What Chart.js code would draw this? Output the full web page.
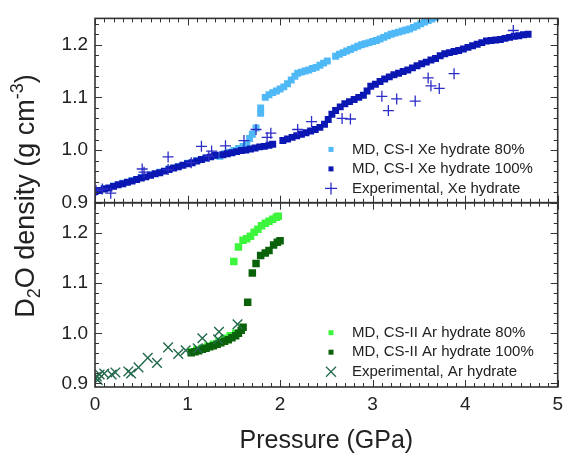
<!DOCTYPE html>
<html>
<head>
<meta charset="utf-8">
<script src="https://cdn.jsdelivr.net/npm/chart.js@4/dist/chart.umd.min.js"></script>
<style>
  html, body { margin: 0; padding: 0; background: #fff; }
  #wrap { width: 569px; height: 456px; }
</style>
</head>
<body>
<div id="wrap"><canvas id="c" width="569" height="456"></canvas></div>
<script>
// tick values
const xTicks = [0, 1, 2, 3, 4, 5];
const yTicksTop = [0.9, 1.0, 1.1, 1.2];
const yTicksBot = [0.9, 1.0, 1.1, 1.2];

// Xe hydrate (top panel): [pressure GPa, D2O density g/cm3]
const xeMd80 = [
  [0.0,0.922],[0.1,0.927],[0.2,0.932],[0.3,0.937],[0.4,0.942],[0.5,0.948],[0.6,0.953],[0.7,0.958],
  [0.8,0.964],[0.9,0.969],[1.0,0.975],[1.1,0.980],[1.2,0.985],[1.3,0.989],[1.35,0.988],[1.4,0.993],
  [1.45,0.996],[1.5,0.999],[1.55,1.003],[1.6,1.007],[1.64,1.012],[1.67,1.022],[1.70,1.030],[1.74,1.042],
  [1.79,1.070],[1.79,1.080],[1.84,1.100],[1.88,1.105],[1.92,1.109],[1.96,1.112],[2.0,1.116],[2.04,1.120],
  [2.08,1.126],[2.12,1.133],[2.16,1.140],[2.19,1.146],[2.23,1.148],[2.27,1.150],[2.31,1.152],[2.35,1.155],
  [2.39,1.157],[2.43,1.161],[2.47,1.165],[2.51,1.169],[2.6,1.178],[2.64,1.182],[2.68,1.185],[2.72,1.188],
  [2.76,1.191],[2.8,1.194],[2.84,1.197],[2.88,1.200],[2.92,1.202],[2.96,1.204],[3.0,1.206],[3.04,1.208],
  [3.08,1.211],[3.12,1.214],[3.16,1.217],[3.2,1.220],[3.24,1.222],[3.28,1.224],[3.32,1.226],[3.36,1.228],
  [3.4,1.230],[3.44,1.233],[3.48,1.236],[3.52,1.240],[3.56,1.243],[3.6,1.246],[3.64,1.249],[3.68,1.252]
];
const xeMd100 = [
  [0.0,0.921],[0.05,0.923],[0.10,0.926],[0.15,0.928],[0.20,0.931],[0.25,0.934],[0.30,0.936],[0.35,0.939],
  [0.40,0.941],[0.45,0.944],[0.50,0.947],[0.55,0.949],[0.60,0.952],[0.65,0.955],[0.70,0.957],[0.75,0.960],
  [0.80,0.963],[0.85,0.966],[0.90,0.968],[0.95,0.971],[1.00,0.974],[1.05,0.976],[1.10,0.979],[1.15,0.982],
  [1.20,0.985],[1.25,0.987],[1.30,0.990],[1.38,0.991],[1.43,0.993],[1.48,0.995],[1.53,0.997],[1.58,0.999],
  [1.63,1.000],[1.68,1.002],[1.73,1.004],[1.78,1.006],[1.83,1.007],[1.88,1.009],[1.92,1.011],
  [2.03,1.018],[2.08,1.021],[2.13,1.024],[2.18,1.027],[2.23,1.030],[2.28,1.033],[2.33,1.036],[2.38,1.039],
  [2.43,1.043],[2.48,1.049],[2.52,1.058],[2.56,1.068],[2.60,1.075],[2.65,1.082],[2.70,1.088],[2.75,1.092],
  [2.80,1.096],[2.85,1.100],[2.90,1.104],[2.94,1.112],[2.98,1.121],[3.03,1.125],[3.08,1.130],[3.13,1.135],
  [3.18,1.139],[3.23,1.143],[3.28,1.146],[3.33,1.149],[3.38,1.152],[3.43,1.156],[3.48,1.160],[3.53,1.164],
  [3.58,1.167],[3.63,1.171],[3.68,1.174],[3.73,1.179],[3.78,1.183],[3.83,1.185],[3.88,1.187],[3.93,1.189],
  [3.98,1.192],[4.03,1.195],[4.08,1.198],[4.13,1.201],[4.18,1.204],[4.23,1.207],[4.28,1.208],[4.33,1.209],
  [4.38,1.210],[4.43,1.212],[4.48,1.214],[4.53,1.216],[4.58,1.217],[4.63,1.219],[4.68,1.220]
];
const xeExp = [
  [0.01,0.923],[0.08,0.926],[0.17,0.918],[0.51,0.964],[0.53,0.958],[0.79,0.987],[0.79,0.963],[1.04,0.976],
  [1.15,1.007],[1.23,0.988],[1.26,0.998],[1.41,1.008],[1.61,1.018],[1.74,1.039],[1.86,1.024],[1.90,1.032],
  [2.19,1.039],[2.34,1.054],[2.67,1.060],[2.76,1.059],[3.10,1.102],[3.17,1.075],[3.26,1.097],[3.46,1.093],
  [3.60,1.137],[3.63,1.122],[3.72,1.117],[3.88,1.145],[4.52,1.227]
];

// Ar hydrate (bottom panel)
const arMd80 = [
  [1.04,0.963],[1.10,0.967],[1.16,0.970],[1.22,0.974],[1.28,0.978],[1.34,0.984],[1.40,0.990],[1.46,0.995],
  [1.52,1.000],[1.50,1.143],[1.55,1.172],[1.60,1.185],[1.64,1.188],[1.68,1.193],[1.72,1.201],[1.76,1.207],
  [1.80,1.214],[1.84,1.219],[1.88,1.223],[1.92,1.227],[1.96,1.231],[1.98,1.233]
];
const arMd100 = [
  [1.04,0.961],[1.08,0.963],[1.12,0.965],[1.16,0.968],[1.20,0.970],[1.24,0.973],[1.28,0.975],[1.32,0.978],
  [1.36,0.981],[1.40,0.984],[1.44,0.987],[1.48,0.991],[1.52,0.995],[1.55,1.000],[1.58,1.006],[1.60,1.012],
  [1.65,1.062],[1.70,1.120],[1.74,1.139],[1.79,1.155],[1.84,1.160],[1.88,1.165],[1.93,1.176],[1.97,1.181],
  [2.00,1.184]
];
const arExp = [
  [0.00,0.912],[0.02,0.914],[0.03,0.907],[0.05,0.918],[0.10,0.920],[0.18,0.918],[0.22,0.922],[0.36,0.924],
  [0.39,0.920],[0.47,0.932],[0.57,0.951],[0.67,0.941],[0.79,0.972],[0.90,0.959],[0.98,0.966],[1.11,0.970],
  [1.16,0.990],[1.33,0.988],[1.34,1.003],[1.54,1.018]
];

const COL = {
  xe80: '#4fb8f6', xe100: '#0b17b2', xeExp: '#2c2cc6',
  ar80: '#3cf53c', ar100: '#0a620a', arExp: '#23694b',
  axis: '#333333', text: '#222222'
};
const FONT = '"Liberation Sans", Arial, sans-serif';

const pts = (arr) => arr.map(([x, y]) => ({ x, y }));

function ds(label, data, axis, color, style, radius, extra) {
  return Object.assign({
    label,
    data: pts(data),
    yAxisID: axis,
    pointStyle: style,
    pointRadius: radius,
    pointBackgroundColor: color,
    pointBorderColor: color,
    pointBorderWidth: 0,
    showLine: false,
  }, extra || {});
}

// datasets with lower index are drawn on top
const datasets = [
  ds('Experimental, Xe hydrate', xeExp, 'y', COL.xeExp, 'cross', 5.5, { pointBorderWidth: 1.3 }),
  ds('MD, CS-I Xe hydrate 100%', xeMd100, 'y', COL.xe100, 'rect', 4.9),
  ds('MD, CS-I Xe hydrate 80%', xeMd80, 'y', COL.xe80, 'rect', 4.9),
  ds('Experimental, Ar hydrate', arExp, 'y2', COL.arExp, 'crossRot', 6.8, { pointBorderWidth: 1.4 }),
  ds('MD, CS-II Ar hydrate 100%', arMd100, 'y2', COL.ar100, 'rect', 5.3),
  ds('MD, CS-II Ar hydrate 80%', arMd80, 'y2', COL.ar80, 'rect', 5.3),
];

const legendTop = [
  { text: 'MD, CS-I Xe hydrate 80%', color: COL.xe80, kind: 'sq' },
  { text: 'MD, CS-I Xe hydrate 100%', color: COL.xe100, kind: 'sq' },
  { text: 'Experimental, Xe hydrate', color: COL.xeExp, kind: 'plus' },
];
const legendBot = [
  { text: 'MD, CS-II Ar hydrate 80%', color: COL.ar80, kind: 'sq' },
  { text: 'MD, CS-II Ar hydrate 100%', color: COL.ar100, kind: 'sq' },
  { text: 'Experimental, Ar hydrate', color: COL.arExp, kind: 'x' },
];

function line(ctx, x1, y1, x2, y2) {
  ctx.beginPath(); ctx.moveTo(x1, y1); ctx.lineTo(x2, y2); ctx.stroke();
}

// frame with inward major/minor ticks for both panels
const frameTicks = {
  id: 'frameTicks',
  afterDatasetsDraw(chart) {
    const { ctx, scales } = chart;
    const xs = scales.x;
    ctx.save();
    ctx.strokeStyle = COL.axis;
    [scales.y, scales.y2].forEach((ys) => {
      const top = ys.top, bot = ys.bottom, l = xs.left, r = xs.right;
      ctx.lineWidth = 1.6;
      ctx.strokeRect(l, top, r - l, bot - top);
      ctx.lineWidth = 1;
      for (let i = 0; i <= 50; i++) {
        const px = Math.round(xs.getPixelForValue(i / 10)) + 0.5;
        const len = i % 10 === 0 ? 7 : 4;
        line(ctx, px, bot, px, bot - len);
        line(ctx, px, top, px, top + len);
      }
      for (let k = 40; k <= 70; k++) {
        const v = k / 50;
        if (v < ys.min - 1e-9 || v > ys.max + 1e-9) continue;
        const py = Math.round(ys.getPixelForValue(v)) + 0.5;
        const major = k % 5 === 0;
        const len = major ? 7 : 4;
        line(ctx, l, py, l + len, py);
        line(ctx, r, py, r - len, py);
      }
    });
    ctx.restore();
  },
  afterDraw(chart) {
    const { ctx, scales } = chart;
    ctx.save();
    ctx.textBaseline = 'middle';
    ctx.font = '15px ' + FONT;
    const drawLegend = (items, y0) => {
      items.forEach((it, i) => {
        const y = y0 + i * 19.5;
        const mx = 331;
        ctx.fillStyle = it.color;
        ctx.strokeStyle = it.color;
        ctx.lineWidth = 1.3;
        if (it.kind === 'sq') {
          ctx.fillRect(mx - 2.5, y - 2.5, 5, 5);
        } else if (it.kind === 'plus') {
          line(ctx, mx - 6, y, mx + 6, y);
          line(ctx, mx, y - 6, mx, y + 6);
        } else {
          line(ctx, mx - 5, y - 5, mx + 5, y + 5);
          line(ctx, mx - 5, y + 5, mx + 5, y - 5);
        }
        ctx.fillStyle = COL.text;
        ctx.fillText(it.text, 352, y);
      });
    };
    drawLegend(legendTop, scales.y.top + 131);
    drawLegend(legendBot, scales.y2.top + 130);

    // y title with sub/superscript
    ctx.translate(24, 196);
    ctx.rotate(-Math.PI / 2);
    ctx.fillStyle = COL.text;
    ctx.textBaseline = 'alphabetic';
    const big = '27px ' + FONT, small = '18px ' + FONT;
    const parts = [
      { t: 'D', f: big, dy: 0 },
      { t: '2', f: small, dy: 6 },
      { t: 'O density (g cm', f: big, dy: 0 },
      { t: '-3', f: small, dy: -11 },
      { t: ')', f: big, dy: 0 },
    ];
    let w = 0;
    parts.forEach((p) => { ctx.font = p.f; w += ctx.measureText(p.t).width; });
    let x = -w / 2;
    parts.forEach((p) => {
      ctx.font = p.f;
      ctx.fillText(p.t, x, 10 + p.dy);
      x += ctx.measureText(p.t).width;
    });
    ctx.restore();
  }
};

const yAxis = (min, max, tickVals, weight) => ({
  type: 'linear',
  position: 'left',
  stack: 'density',
  stackWeight: 1,
  weight,
  min, max,
  afterBuildTicks: (s) => { s.ticks = tickVals.map((v) => ({ value: v })); },
  afterFit: (s) => { s.width = 95; },
  grid: { display: false, drawTicks: false },
  border: { display: false },
  ticks: {
    padding: 7,
    color: COL.text,
    font: { family: FONT, size: 19 },
    callback: (v) => Number(v).toFixed(1),
  },
});

new Chart(document.getElementById('c'), {
  type: 'scatter',
  data: { datasets },
  options: {
    responsive: false,
    animation: false,
    layout: { padding: { left: 0, top: 7, right: 6, bottom: 0 } },
    plugins: { legend: { display: false }, tooltip: { enabled: false } },
    scales: {
      x: {
        type: 'linear',
        min: 0, max: 5,
        afterBuildTicks: (s) => { s.ticks = xTicks.map((v) => ({ value: v })); },
        afterFit: (s) => { s.height = 69; },
        grid: { display: false, drawTicks: false },
        border: { display: false },
        ticks: { padding: 6, color: COL.text, font: { family: FONT, size: 19 } },
        title: {
          display: true,
          text: 'Pressure (GPa)',
          color: COL.text,
          font: { family: FONT, size: 25 },
          padding: { top: 3, bottom: 0 },
        },
      },
      y: yAxis(0.9, 1.25, yTicksTop, 2),
      y2: yAxis(0.893, 1.26, yTicksBot, 1),
    },
  },
  plugins: [frameTicks],
});
</script>
</body>
</html>
